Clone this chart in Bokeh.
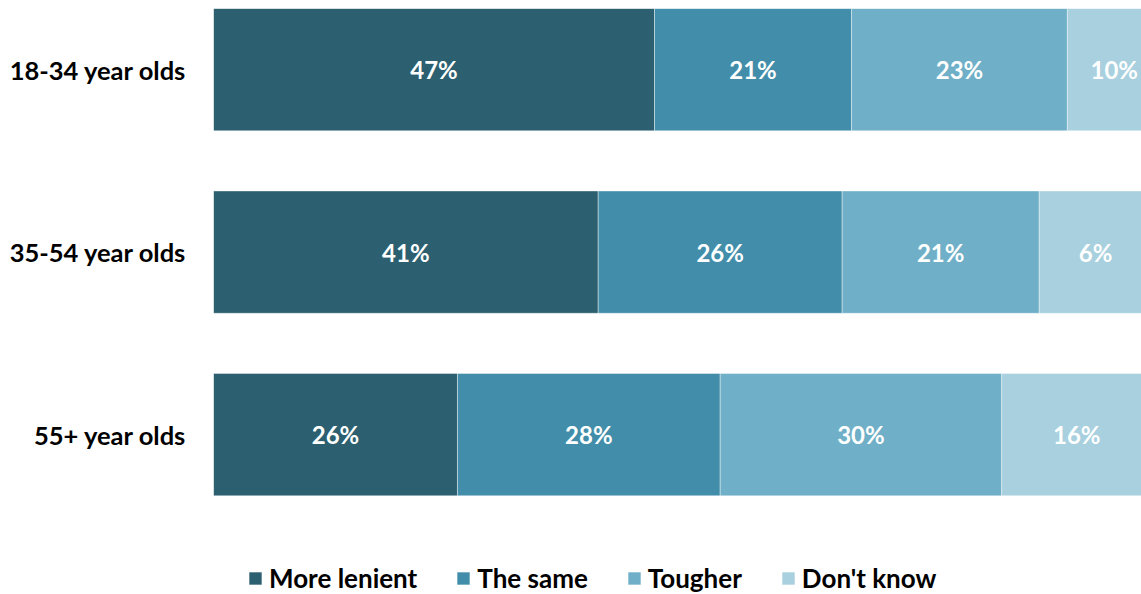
from bokeh.plotting import figure
from bokeh.models import ColumnDataSource, Range1d, Legend, LegendItem
from bokeh.core.properties import value
from bokeh.embed import file_html
from bokeh.resources import INLINE
import numpy as np

categories = ["18-34 year olds", "35-54 year olds", "55+ year olds"]
series_names = ["More lenient", "The same", "Tougher", "Don't know"]
more_lenient = [47, 41, 26]
the_same = [21, 26, 28]
tougher = [23, 21, 30]
dont_know = [10, 12, 16]
dont_know_labels = ["10%", "6%", "16%"]
colors = ["#2C5F70", "#428EAA", "#6FAFC7", "#A8D0DE"]

FONT = "Lato"

ys = [0, 1, 2]
data = dict(y=ys, more_lenient=more_lenient, the_same=the_same,
            tougher=tougher, dont_know=dont_know)
source = ColumnDataSource(data)

p = figure(width=1141, height=594, output_backend="svg", toolbar_location=None,
           x_range=Range1d(0, 98.9), y_range=Range1d(2.876, -0.335),
           min_border_left=213, min_border_right=0, min_border_top=8,
           min_border_bottom=0)

keys = ["more_lenient", "the_same", "tougher", "dont_know"]
renderers = p.hbar_stack(keys, y="y", height=0.67, color=colors, source=source,
                         line_color="white", line_width=0.4)

# labels
vals = np.array([more_lenient, the_same, tougher, dont_know], dtype=float)
cum = np.cumsum(vals, axis=0)
lefts = cum - vals
centers = (lefts + cum) / 2
label_texts = [[f"{v}%" for v in more_lenient], [f"{v}%" for v in the_same],
               [f"{v}%" for v in tougher], dont_know_labels]
lx, ly, lt = [], [], []
for i in range(4):
    for j in range(3):
        lx.append(centers[i, j]); ly.append(ys[j]); lt.append(label_texts[i][j])
p.text(x=lx, y=ly, text=lt, text_align="center", text_baseline="middle",
       text_color="white", text_font=value(FONT), text_font_style="bold",
       text_font_size="24px")

p.xaxis.visible = False
p.xgrid.visible = False
p.ygrid.visible = False
p.outline_line_color = None
p.yaxis.ticker = ys
p.yaxis.major_label_overrides = {i: c for i, c in zip(ys, categories)}
p.yaxis.axis_line_color = None
p.yaxis.major_tick_line_color = None
p.yaxis.minor_tick_line_color = None
p.yaxis.major_tick_out = 0
p.yaxis.major_tick_in = 0
p.yaxis.major_label_standoff = 27
p.yaxis.major_label_text_font = FONT
p.yaxis.major_label_text_font_style = "bold"
p.yaxis.major_label_text_font_size = "25.5px"
p.yaxis.major_label_text_color = "#000000"

legend = Legend(items=[LegendItem(label=n, renderers=[r]) for n, r in zip(series_names, renderers)],
                orientation="horizontal", location=(34, 0), padding=0, margin=0,
                spacing=38, label_standoff=6, glyph_width=16, glyph_height=16,
                border_line_color=None, background_fill_alpha=0,
                label_text_font=FONT, label_text_font_style="bold",
                label_text_font_size="26px", label_text_color="#000000")
p.add_layout(legend)

open("out.html", "w").write(file_html(p, INLINE))
